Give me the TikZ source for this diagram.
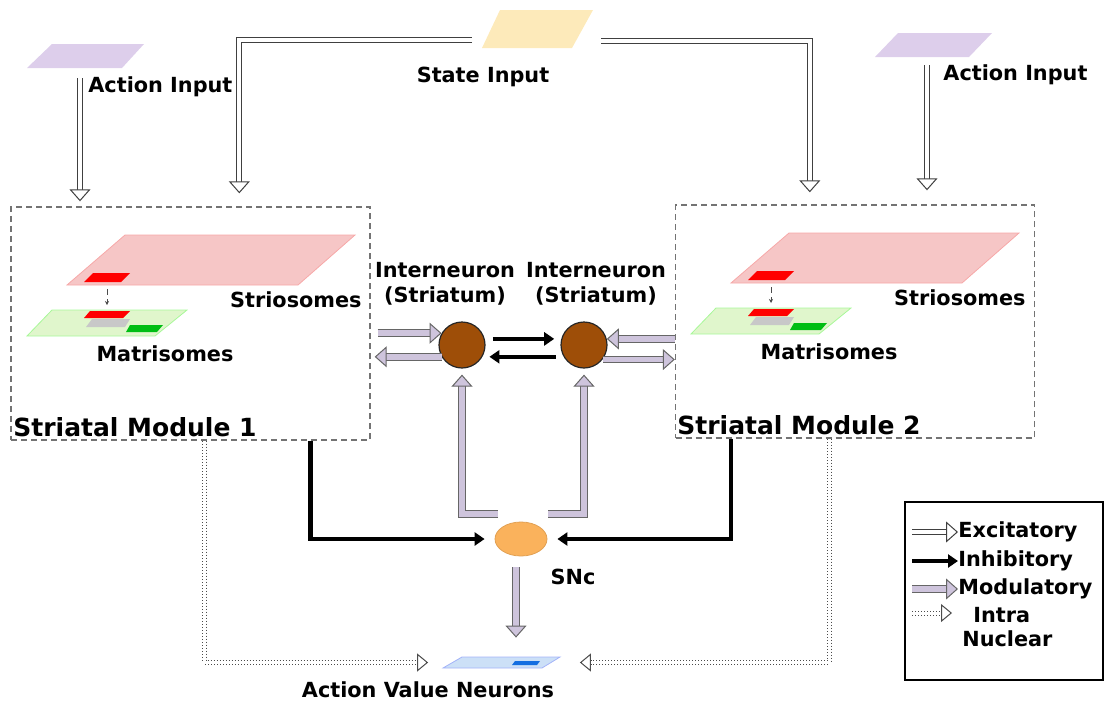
\documentclass[tikz,border=0pt]{standalone}
\usepackage{fontspec}
\setmainfont{DejaVu Sans}
\usetikzlibrary{arrows.meta,positioning,shapes.geometric}

\definecolor{actlilac}{RGB}{221,206,235}
\definecolor{stateyel}{RGB}{253,234,186}
\definecolor{striopink}{RGB}{246,198,198}
\definecolor{matgreen}{RGB}{224,246,204}
\definecolor{patchgray}{RGB}{200,200,200}
\definecolor{patchgreen}{RGB}{0,190,20}
\definecolor{avnblue}{RGB}{204,224,247}
\definecolor{avndark}{RGB}{20,110,225}
\definecolor{neubrown}{RGB}{158,78,8}
\definecolor{sncorange}{RGB}{250,178,92}
\definecolor{modlilac}{RGB}{206,196,220}

\begin{document}
\begin{tikzpicture}[x=0.5pt, y=-0.5pt,
  lbl/.style={font=\bfseries\fontsize{10.4}{12.5}\selectfont, inner sep=0pt, align=center},
  modtitle/.style={font=\bfseries\fontsize{12.5}{15}\selectfont, inner sep=0pt},
  module/.style={draw=black!55, dash pattern=on 3pt off 2pt, line width=0.7pt,
    minimum width=179.5pt, minimum height=116.5pt, inner sep=0pt},
  neuron/.style={circle, draw=black!85, line width=0.6pt, fill=neubrown, minimum size=23pt, inner sep=0pt},
  dopa/.style={ellipse, draw=sncorange!90!black, fill=sncorange, minimum width=26pt, minimum height=17pt, inner sep=0pt},
  excit/.style={draw=black!75, line width=0.5pt, double=white, double distance=2pt,
    -{Triangle[open, fill=white, length=6pt, width=10.5pt]}},
  modul/.style={draw=black!60, line width=0.5pt, double=modlilac, double distance=2.8pt,
    -{Triangle[open, fill=modlilac, length=6pt, width=10.5pt]}},
  inhib/.style={draw=black, line width=2.2pt, -{Triangle[length=5pt, width=6.5pt]}},
  intra/.style={draw=black!70, densely dotted, line width=0.5pt, double=white, double distance=1.5pt,
    -{Triangle[open, fill=white, length=5.5pt, width=9pt]}},
  ]
  \useasboundingbox (0,0) rectangle (1108,702);

  % inputs
  \fill[actlilac] (27,68) -- (52,44) -- (144,44) -- (122,68) -- cycle;
  \fill[stateyel] (482,48) -- (500,10) -- (593,10) -- (572,48) -- cycle;
  \fill[actlilac] (875,57) -- (898,33) -- (992,33) -- (969,57) -- cycle;
  \node[lbl, anchor=west] (lai1) at (88,87) {Action Input};
  \node[lbl] (lsi) at (483,77) {State Input};
  \node[lbl, anchor=west] (lai2) at (943,75) {Action Input};
  \coordinate (ai1) at (80,78);
  \coordinate (sil) at (472,40);
  \coordinate (sir) at (601,41);
  \coordinate (ai2) at (927,65);

  % striatal modules
  \node[module] (m1) at (190.5,323.5) {};
  \node[module] (m2) at (855,321.5) {};
  \foreach \dx/\dy/\n in {0/0/1, 664/-2/2} {
    \begin{scope}[shift={(\dx,\dy)}]
      \filldraw[fill=striopink, draw=striopink!85!red] (67,285) -- (125,235) -- (355,235) -- (298,285) -- cycle;
      \fill[red] (84,282) -- (93,273) -- (130,273) -- (121,282) -- cycle;
      \filldraw[fill=matgreen, draw=matgreen!75!green] (27,336) -- (52,310) -- (187,310) -- (155,336) -- cycle;
      \fill[patchgray] (86,327) -- (92,319) -- (130,319) -- (125,327) -- cycle;
      \fill[red] (84,318) -- (90,311) -- (130,311) -- (123,318) -- cycle;
      \fill[patchgreen] (126,332) -- (130,325) -- (163,325) -- (157,332) -- cycle;
      \coordinate (up\n) at (107,289);
      \coordinate (dn\n) at (107,305);
      \draw[black!70, densely dashed, line width=0.3pt, -{Stealth[length=2pt, width=2pt]}] (up\n) -- (dn\n);
      \node[lbl, anchor=east] (strio\n) at (362,300) {Striosomes};
      \node[lbl] (matri\n) at (165,354) {Matrisomes};
      \node[modtitle, anchor=west] (title\n) at (13,427) {Striatal Module \n};
    \end{scope}
  }

  % interneurons and SNc
  \node[neuron] (in1) at (462,345) {};
  \node[neuron] (in2) at (584,345) {};
  \node[lbl] (lin1) at (445,284) {Interneuron\\(Striatum)};
  \node[lbl] (lin2) at (596,284) {Interneuron\\(Striatum)};
  \node[dopa] (snc) at (521,539) {};
  \node[lbl] (lsnc) at (573,577) {SNc};
  \coordinate (sl) at (498,514);
  \coordinate (sr) at (548,514);
  \coordinate (sd) at (516,567);

  % action value neurons
  \node[inner sep=0pt, minimum width=58.5pt, minimum height=5.5pt] (avn) at (501,662.5) {};
  \filldraw[fill=avnblue, draw=avnblue!80!blue] (443,668) -- (462,657) -- (560,657) -- (542,668) -- cycle;
  \fill[avndark] (512,665) -- (515,661) -- (540,661) -- (537,665) -- cycle;
  \node[lbl] (lavn) at (428,690) {Action Value Neurons};

  % excitatory inputs
  \draw[excit, shorten >=2.5pt] (ai1) -- (ai1 |- m1.north);
  \draw[excit, shorten >=6.5pt] (sil) -| ([xshift=114.5pt]m1.north west);
  \draw[excit, shorten >=6pt] (sir) -| ([xshift=67.5pt]m2.north west);
  \draw[excit, shorten >=7pt] (ai2) -- (ai2 |- m2.north);

  % modulatory
  \draw[modul, shorten <=3.5pt] (m1.east |- in1.150) -- (in1.150);
  \draw[modul, shorten >=2pt] (in1.210) -- (m1.east |- in1.210);
  \draw[modul] (m2.west |- in2.15) -- (in2.15);
  \draw[modul] (in2.-38) -- (m2.west |- in2.-38);
  \draw[modul, shorten >=3pt] (sl) -| (in1);
  \draw[modul, shorten >=3pt] (sr) -| (in2);
  \draw[modul, shorten >=9.5pt] (sd) -- (sd |- avn.north);

  % inhibitory
  \draw[inhib, shorten <=4pt, shorten >=3.5pt] (in1.15) -- (in2.165);
  \draw[inhib, shorten <=4pt, shorten >=3.5pt] (in2.210) -- (in1.-30);
  \draw[inhib, shorten >=5pt] ([xshift=150pt]m1.south west) |- (snc);
  \draw[inhib, shorten >=5pt] ([xshift=-152pt]m2.south east) |- (snc);

  % intra nuclear
  \draw[intra] ([xshift=97pt]m1.south west) |- ([xshift=-7pt]avn.west);
  \draw[intra] ([xshift=-103pt]m2.south east) |- ([xshift=10pt]avn.east);

  % legend
  \node[draw, line width=0.7pt, minimum width=99pt, minimum height=89pt, inner sep=0pt] (legend) at (1004,591) {};
  \node[lbl, anchor=west] (lexc) at (958,532) {Excitatory};
  \node[lbl, anchor=west] (linh) at (958,561) {Inhibitory};
  \node[lbl, anchor=west] (lmod) at (958,589) {Modulatory};
  \node[lbl, anchor=west] (lint) at (973,615) {Intra};
  \node[lbl, anchor=west] (lnuc) at (962,639) {Nuclear};
  \coordinate (lig) at (912,613);
  \draw[excit] ([xshift=-23pt]lexc.west) -- (lexc.west);
  \draw[inhib] ([xshift=-23pt]linh.west) -- (linh.west);
  \draw[modul] ([xshift=-23pt]lmod.west) -- (lmod.west);
  \draw[intra] (lig) -- ++(40,0);
\end{tikzpicture}
\end{document}
